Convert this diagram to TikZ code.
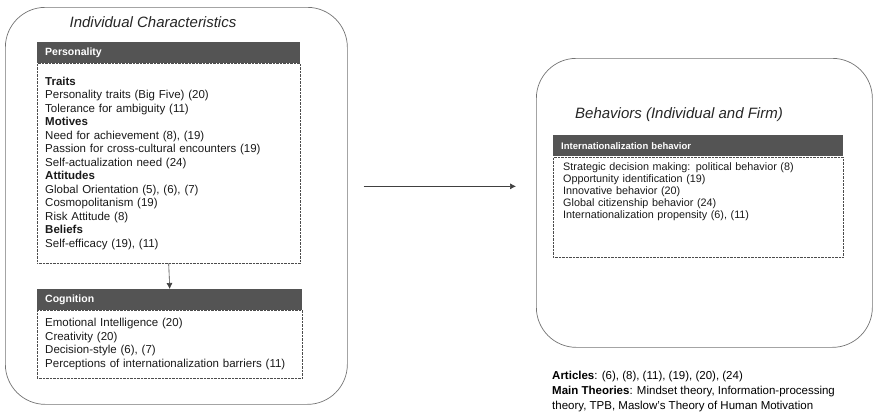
\documentclass[tikz,border=0pt]{standalone}
\usepackage{fontspec}
\setmainfont{Liberation Sans}
\usetikzlibrary{arrows.meta,positioning}

\begin{document}
\begin{tikzpicture}[
  x=1pt, y=-1pt,
  font=\fontsize{11.5}{13.5}\selectfont,
  group/.style={draw=black!55, rounded corners=40pt, line width=0.7pt, anchor=north west, inner sep=0pt},
  grouptitle/.style={font=\fontsize{15}{17}\selectfont\itshape, text=black!85},
  header/.style={fill=black!67, text=white, anchor=north west, align=left, minimum height=21pt, inner xsep=8pt, inner ysep=0pt, font=\fontsize{10.5}{12}\selectfont\bfseries},
  content/.style={draw=black!70, densely dotted, anchor=north west, align=left, inner xsep=8pt, inner ysep=4pt, text=black!90},
  link/.style={-{Latex[length=6pt,width=6pt]}, draw=black!75, line width=0.6pt}
]
\useasboundingbox (0,0) rectangle (874,415);

% Individual characteristics (left)
\node[group, minimum width=342pt, minimum height=397pt] (indiv) at (5,7) {};
\node[grouptitle] (indivtitle) at (153,22) {Individual Characteristics};

\node[header, text width=247pt] (pers) at (37,42) {Personality};
\node[content, text width=247pt, minimum height=200pt] (perslist) at (37,63) {%
  \textbf{Traits}\\
  Personality traits (Big Five) (20)\\
  Tolerance for ambiguity (11)\\
  \textbf{Motives}\\
  Need for achievement (8), (19)\\
  Passion for cross-cultural encounters (19)\\
  Self-actualization need (24)\\
  \textbf{Attitudes}\\
  Global Orientation (5), (6), (7)\\
  Cosmopolitanism (19)\\
  Risk Attitude (8)\\
  \textbf{Beliefs}\\
  Self-efficacy (19), (11)};

\node[header, text width=249pt] (cogn) at (37,289) {Cognition};
\node[content, text width=249pt, minimum height=68pt] (cognlist) at (37,310) {%
  Emotional Intelligence (20)\\
  Creativity (20)\\
  Decision-style (6), (7)\\
  Perceptions of internationalization barriers (11)};

% Behaviors (right)
\node[group, minimum width=336pt, minimum height=289pt] (behav) at (536,58) {};
\node[grouptitle] (behavtitle) at (679,115) {Behaviors (Individual and Firm)};

\node[header, text width=274pt, font=\fontsize{9.5}{11}\selectfont\bfseries] (intbeh) at (553,135) {Internationalization behavior};
\node[content, text width=270pt, inner xsep=10pt, inner ysep=5pt, font=\fontsize{10.8}{12}\selectfont] (intbehlist) at (553,157) {%
  Strategic decision making: political behavior (8)\\
  Opportunity identification (19)\\
  Innovative behavior (20)\\
  Global citizenship behavior (24)\\
  Internationalization propensity (6), (11)\\[22pt]\mbox{}};

% Notes
\node[anchor=north west, align=left, inner sep=0pt, font=\fontsize{11.5}{15}\selectfont] (notes) at (552,371) {%
  \textbf{Articles}: (6), (8), (11), (19), (20), (24)\\
  \textbf{Main Theories}: Mindset theory, Information-processing\\
  theory, TPB, Maslow's Theory of Human Motivation};

% Arrows
\draw[link] (perslist.south) -- (cogn.north);
\draw[link] ([shift={(16,-19.5)}]indiv.east) -- ([shift={(-20,-16.5)}]behav.west);
\end{tikzpicture}
\end{document}
